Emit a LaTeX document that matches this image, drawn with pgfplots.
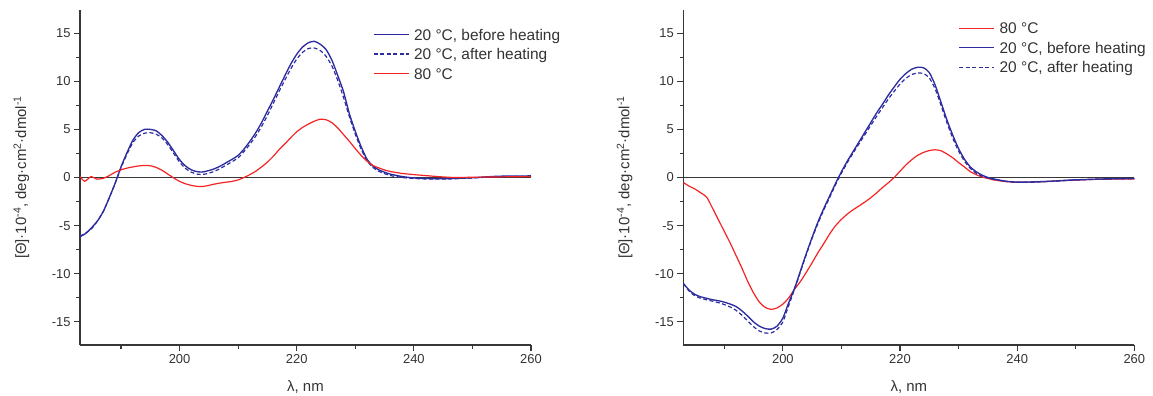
\documentclass[border=0pt]{standalone}
\usepackage{fontspec}
\setmainfont{Liberation Sans}
\usepackage{pgfplots}
\pgfplotsset{compat=1.18}

\definecolor{cdblue}{RGB}{45,45,160}
\definecolor{cdred}{RGB}{245,35,35}
\definecolor{axgray}{RGB}{55,55,55}

\pgfplotsset{
  cdstyle/.style={
    scale only axis, width=451bp, height=335bp,
    xmin=183, xmax=260, ymin=-17.4, ymax=17.4,
    axis x line*=bottom, axis y line*=left,
    axis line style={axgray, line width=1.35bp, -},
    xtick={200,220,240,260}, minor xtick={190,210,230,250},
    ytick={-15,-10,...,15}, minor ytick={-12.5,-7.5,-2.5,2.5,7.5,12.5},
    tick align=outside, major tick length=6bp, minor tick length=3.5bp,
    tick style={axgray, line width=1.1bp},
    ticklabel style={font=\fontsize{13}{15}\selectfont, text=black!80},
    /pgf/number format/assume math mode=true,
    xlabel={λ, nm},
    ylabel={[Θ]·10\textsuperscript{-4}, deg·cm\textsuperscript{2}·dmol\textsuperscript{-1}},
    label style={font=\fontsize{15}{18}\selectfont, text=black!80},
    xlabel style={at={(axis description cs:0.5,-0.125)}, anchor=center},
    ylabel style={at={(axis description cs:-0.13,0.5)}, anchor=center},
    legend style={draw=none, fill=none, inner sep=0pt,
      font=\fontsize{15.5}{18}\selectfont, text=black!80,
      cells={anchor=west}, row sep=6bp, column sep=3.5bp,
      nodes={inner sep=1bp, text height=11.5bp, text depth=0bp}},
    legend image code/.code={\draw[#1] (0bp,0bp) -- (35bp,0bp);},
    every axis plot/.append style={smooth, tension=0.4},
  },
  bline/.style={cdblue, line width=1.35bp},
  aline/.style={cdblue, line width=1.2bp, dash pattern=on 4bp off 2.5bp},
  rline/.style={cdred, line width=1.2bp},
  zline/.style={axgray, line width=1.35bp, forget plot},
}

\begin{document}
\begin{tikzpicture}
\useasboundingbox (-80bp,-51bp) rectangle (1073bp,345bp);

\begin{axis}[cdstyle, at={(0bp,0bp)}, anchor=south west,
  legend style={at={(axis description cs:0.6497,0.9475)}, anchor=north west}]
\addplot[zline] coordinates {(183,0) (260,0)};
\addplot[bline] coordinates {
(183,-6.15) (184,-5.8) (185,-5.2) (186,-4.5) (187,-3.5) (188,-2.1) (189,-0.6)
(190,1.1) (191,2.55) (192,3.85) (193,4.65) (194,5.0) (195,5.0) (196,4.85)
(197,4.35) (198,3.65) (199,2.75) (200,1.85) (201,1.2) (202,0.8) (203,0.6)
(204,0.58) (205,0.72) (206,0.92) (207,1.2) (208,1.55) (209,1.9) (210,2.3)
(211,2.95) (212,3.75) (213,4.65) (214,5.7) (215,6.9) (216,8.1) (217,9.35)
(218,10.6) (219,11.8) (220,12.8) (221,13.55) (222,14.0) (223,14.15) (224,13.85)
(225,13.3) (226,12.2) (227,10.6) (228,8.9) (229,6.6) (230,4.8) (231,3.2)
(232,1.9) (233,1.2) (234,0.8) (235,0.55) (236,0.35) (238,0.1) (240,-0.05)
(242,-0.1) (244,-0.13) (246,-0.12) (248,-0.08) (250,-0.03) (252,0.05)
(254,0.12) (256,0.15) (258,0.15) (260,0.17)};
\addlegendentry{20 °C, before heating}
\addplot[aline] coordinates {
(183,-6.1) (184,-5.75) (185,-5.3) (186,-4.5) (187,-3.5) (188,-2.1) (189,-0.6)
(190,1.0) (191,2.4) (192,3.6) (193,4.3) (194,4.6) (195,4.65) (196,4.5)
(197,4.1) (198,3.4) (199,2.5) (200,1.6) (201,0.95) (202,0.55) (203,0.35)
(204,0.32) (205,0.45) (206,0.65) (207,0.95) (208,1.3) (209,1.65) (210,2.05)
(211,2.7) (212,3.45) (213,4.3) (214,5.3) (215,6.45) (216,7.7) (217,8.95)
(218,10.15) (219,11.3) (220,12.3) (221,13.0) (222,13.4) (223,13.45) (224,13.2)
(225,12.6) (226,11.6) (227,10.1) (228,8.3) (229,6.3) (230,4.5) (231,2.95)
(232,1.75) (233,1.05) (234,0.65) (235,0.4) (236,0.2) (238,0.0) (240,-0.1)
(242,-0.15) (244,-0.17) (246,-0.15) (248,-0.1) (250,-0.05) (252,0.02)
(254,0.08) (256,0.1) (258,0.1) (260,0.12)};
\addlegendentry{20 °C, after heating}
\addplot[rline] coordinates {
(183,0.1) (183.8,-0.4) (184.9,0.1) (185.8,-0.15) (186.9,-0.1) (188,0.2)
(189,0.55) (190,0.8) (191,0.97) (192,1.1) (193,1.2) (194,1.25) (195,1.22)
(196,1.05) (197,0.75) (198,0.35) (199,-0.05) (200,-0.4) (201,-0.65)
(202,-0.82) (203,-0.92) (204,-0.93) (205,-0.82) (206,-0.68) (207,-0.57)
(208,-0.48) (209,-0.4) (210,-0.25) (211,0.0) (212,0.3) (213,0.65) (214,1.1)
(215,1.6) (216,2.2) (217,2.9) (218,3.5) (219,4.15) (220,4.75) (221,5.2)
(222,5.55) (223,5.85) (224,6.05) (225,6.0) (226,5.7) (227,5.15) (228,4.45)
(229,3.75) (230,3.0) (231,2.3) (232,1.7) (233,1.25) (234,1.0) (235,0.78)
(236,0.62) (237,0.52) (238,0.42) (240,0.3) (242,0.2) (244,0.1) (246,0.02)
(248,0.0) (250,0.03) (253,0.05) (256,0.07) (260,0.1)};
\addlegendentry{80 °C}
\end{axis}

\begin{axis}[cdstyle, at={(603.3bp,0bp)}, anchor=south west,
  legend style={at={(axis description cs:0.6104,0.9664)}, anchor=north west}]
\addplot[zline] coordinates {(183,0) (260,0)};
\addplot[rline] coordinates {
(183,-0.52) (184,-0.9) (185,-1.2) (186,-1.6) (187,-2.05) (188,-3.2)
(189,-4.4) (190,-5.6) (191,-6.8) (192,-8.1) (193,-9.4) (194,-10.8)
(195,-12.0) (196,-12.95) (197,-13.5) (198,-13.7) (199,-13.55) (200,-13.15)
(201,-12.5) (202,-11.6) (203,-10.8) (204,-9.85) (205,-8.85) (206,-7.8)
(207,-6.85) (208,-5.85) (209,-5.0) (210,-4.35) (211,-3.8) (212,-3.35)
(213,-2.95) (214,-2.55) (215,-2.1) (216,-1.6) (217,-1.05) (218,-0.55)
(219,0.0) (220,0.65) (221,1.3) (222,1.85) (223,2.3) (224,2.6) (225,2.8)
(226,2.88) (227,2.78) (228,2.45) (229,2.05) (230,1.55) (231,1.1) (232,0.6)
(233,0.3) (234,0.05) (235,-0.1) (236,-0.25) (238,-0.42) (240,-0.5)
(242,-0.48) (244,-0.44) (246,-0.38) (248,-0.32) (250,-0.27) (253,-0.2)
(256,-0.17) (260,-0.15)};
\addlegendentry{80 °C}
\addplot[bline] coordinates {
(183,-11.0) (184,-11.7) (185,-12.15) (186,-12.4) (187,-12.55) (188,-12.7)
(189,-12.8) (190,-12.95) (191,-13.15) (192,-13.4) (193,-13.85) (194,-14.4)
(195,-15.0) (196,-15.45) (197,-15.7) (198,-15.75) (199,-15.45) (200,-14.6)
(201,-13.0) (202,-11.5) (203,-9.7) (204,-7.9) (205,-6.2) (206,-4.6)
(207,-3.2) (208,-1.9) (209,-0.6) (210,0.6) (211,1.7) (212,2.7) (213,3.7)
(214,4.7) (215,5.7) (216,6.7) (217,7.6) (218,8.55) (219,9.4) (220,10.2)
(221,10.8) (222,11.25) (223,11.45) (224,11.4) (225,10.9) (226,9.6) (227,7.8)
(228,6.0) (229,4.4) (230,3.0) (231,1.9) (232,1.1) (233,0.6) (234,0.25)
(235,0.0) (236,-0.15) (238,-0.38) (240,-0.48) (242,-0.47) (244,-0.43)
(246,-0.38) (248,-0.3) (250,-0.24) (253,-0.18) (256,-0.13) (260,-0.1)};
\addlegendentry{20 °C, before heating}
\addplot[aline] coordinates {
(183,-11.0) (184,-11.8) (185,-12.3) (186,-12.55) (187,-12.7) (188,-12.85)
(189,-13.0) (190,-13.2) (191,-13.45) (192,-13.8) (193,-14.3) (194,-14.9)
(195,-15.5) (196,-15.95) (197,-16.15) (198,-16.15) (199,-15.8) (200,-15.0)
(201,-13.3) (202,-11.6) (203,-9.8) (204,-8.0) (205,-6.3) (206,-4.75)
(207,-3.35) (208,-2.05) (209,-0.75) (210,0.45) (211,1.55) (212,2.55)
(213,3.5) (214,4.45) (215,5.4) (216,6.35) (217,7.25) (218,8.15) (219,8.95)
(220,9.7) (221,10.3) (222,10.7) (223,10.85) (224,10.8) (225,10.35) (226,9.2)
(227,7.5) (228,5.7) (229,4.1) (230,2.75) (231,1.7) (232,0.95) (233,0.45)
(234,0.15) (235,-0.05) (236,-0.2) (238,-0.4) (240,-0.5) (242,-0.5)
(244,-0.45) (246,-0.4) (248,-0.33) (250,-0.27) (253,-0.2) (256,-0.15)
(260,-0.12)};
\addlegendentry{20 °C, after heating}
\end{axis}
\end{tikzpicture}
\end{document}
